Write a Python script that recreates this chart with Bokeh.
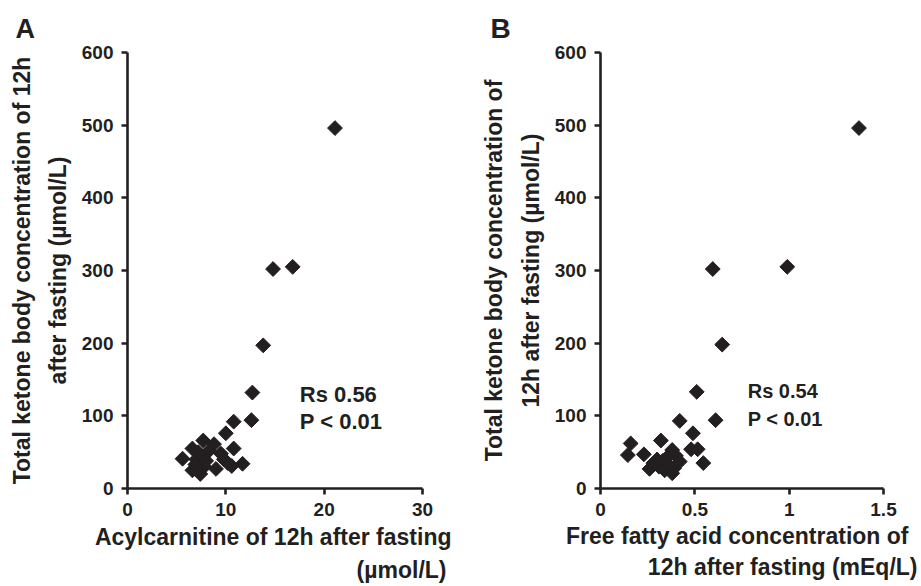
import numpy as np
from bokeh.plotting import figure
from bokeh.layouts import row
from bokeh.models import Label, FixedTicker, NumeralTickFormatter, Title
from bokeh.embed import file_html
from bokeh.resources import INLINE

# ---------------- data ----------------
# Panel A: acylcarnitine (umol/L) vs total ketone body (umol/L)
acyl = [21.1, 14.8, 16.8, 13.8, 12.7, 12.6, 10.8, 10.0, 10.8, 11.7,
        10.6, 9.0, 5.6, 6.6, 7.7, 8.8, 9.5, 6.6, 7.4, 7.0,
        7.5, 8.0, 7.2, 9.8, 10.2, 8.3, 7.8, 6.9]
tkb_a = [496, 302, 305, 197, 132, 94, 92, 76, 55, 34,
         31, 27, 41, 55, 66, 61, 48, 25, 20, 40,
         45, 38, 50, 40, 35, 52, 30, 33]

# Panel B: free fatty acid (mEq/L) vs total ketone body (umol/L)
ffa = [1.37, 0.99, 0.595, 0.645, 0.51, 0.61, 0.42, 0.49, 0.16, 0.32,
       0.145, 0.23, 0.48, 0.515, 0.545, 0.38, 0.42, 0.26, 0.38, 0.30,
       0.33, 0.36, 0.40, 0.31, 0.35, 0.39, 0.28, 0.34]
tkb_b = [496, 305, 302, 198, 133, 94, 93, 76, 62, 66,
         46, 47, 54, 54, 35, 53, 37, 27, 21, 40,
         38, 32, 45, 30, 42, 28, 35, 25]

y_ticks = [0, 100, 200, 300, 400, 500, 600]
xa_ticks = [0, 10, 20, 30]
xb_ticks = [0, 0.5, 1, 1.5]

stats_a = ["Rs 0.56", "P < 0.01"]
stats_b = ["Rs 0.54", "P < 0.01"]

INK = "#231f20"
FONT = "Liberation Sans"


def style(p, xticks):
    for ax in (p.xaxis[0], p.yaxis[0]):
        ax.axis_line_width = 2.6
        ax.axis_line_color = INK
        ax.major_tick_line_width = 2.6
        ax.major_tick_line_color = INK
        ax.major_tick_out = 6
        ax.major_tick_in = 0
        ax.minor_tick_out = 0
        ax.minor_tick_in = 0
        ax.major_label_text_font = FONT
        ax.major_label_text_font_style = "bold"
        ax.major_label_text_font_size = "19px"
        ax.major_label_text_color = INK
    p.xaxis[0].ticker = FixedTicker(ticks=xticks)
    p.yaxis[0].ticker = FixedTicker(ticks=y_ticks)
    p.xaxis[0].major_label_standoff = 8
    p.yaxis[0].major_label_standoff = 8
    p.grid.visible = False
    p.outline_line_color = None
    p.background_fill_color = "white"
    p.border_fill_color = "white"


def lab(p, text, x, y, size):
    p.add_layout(Label(x=x, y=y, x_units="screen", y_units="screen", text=text,
                       text_font=FONT, text_font_style="bold",
                       text_font_size=size, text_color=INK,
                       text_align="left", text_baseline="alphabetic"))


def title(p, text, place, align, size, offset=0, standoff=0):
    p.add_layout(Title(text=text, align=align, text_font=FONT,
                       text_font_style="bold", text_font_size=size,
                       text_color=INK, offset=offset, standoff=standoff),
                 place)


# ---------------- panel A ----------------
pA = figure(width=460, height=586, x_range=(0, 30), y_range=(0, 600),
            output_backend="svg", toolbar_location=None,
            min_border_left=127, min_border_right=38,
            min_border_top=51, min_border_bottom=98)
style(pA, xa_ticks)
pA.scatter(acyl, tkb_a, marker="square", size=10.5, angle=np.pi / 4,
           fill_color=INK, line_color=INK, line_width=1)

lab(pA, stats_a[0], 172.3, 94.5, "22px")
lab(pA, stats_a[1], 172.3, 67, "22px")
title(pA, "A", "above", "left", "27px", offset=-112, standoff=17)
title(pA, "Acylcarnitine of 12h after fasting", "below", "right", "23px",
      offset=-29, standoff=7)
title(pA, "(\u00b5mol/L)", "below", "right", "23px", offset=-24, standoff=2)
title(pA, "after fasting (\u00b5mol/L)", "left", "center", "23px", standoff=15)
title(pA, "Total ketone body concentration of 12h", "left", "center", "23px",
      standoff=2)

# ---------------- panel B ----------------
pB = figure(width=461, height=586, x_range=(0, 1.5), y_range=(0, 600),
            output_backend="svg", toolbar_location=None,
            min_border_left=140, min_border_right=38,
            min_border_top=52, min_border_bottom=93)
style(pB, xb_ticks)
pB.xaxis[0].formatter = NumeralTickFormatter(format="0.[0]")
pB.scatter(ffa, tkb_b, marker="square", size=10.5, angle=np.pi / 4,
           fill_color=INK, line_color=INK, line_width=1)

lab(pB, stats_b[0], 147.2, 97.7, "20px")
lab(pB, stats_b[1], 147.2, 69.2, "20px")
title(pB, "B", "above", "left", "28px", offset=-110, standoff=17)
title(pB, "Free fatty acid concentration of", "below", "right", "23px",
      offset=-25, standoff=4)
title(pB, "12h after fasting (mEq/L)", "below", "right", "23px",
      offset=-34, standoff=2)
title(pB, "12h after fasting (\u00b5mol/L)", "left", "center", "23px",
      standoff=16)
title(pB, "Total ketone body concentration of", "left", "center", "23px",
      standoff=1)

layout = row(pA, pB)
open("out.html", "w").write(file_html(layout, INLINE))
